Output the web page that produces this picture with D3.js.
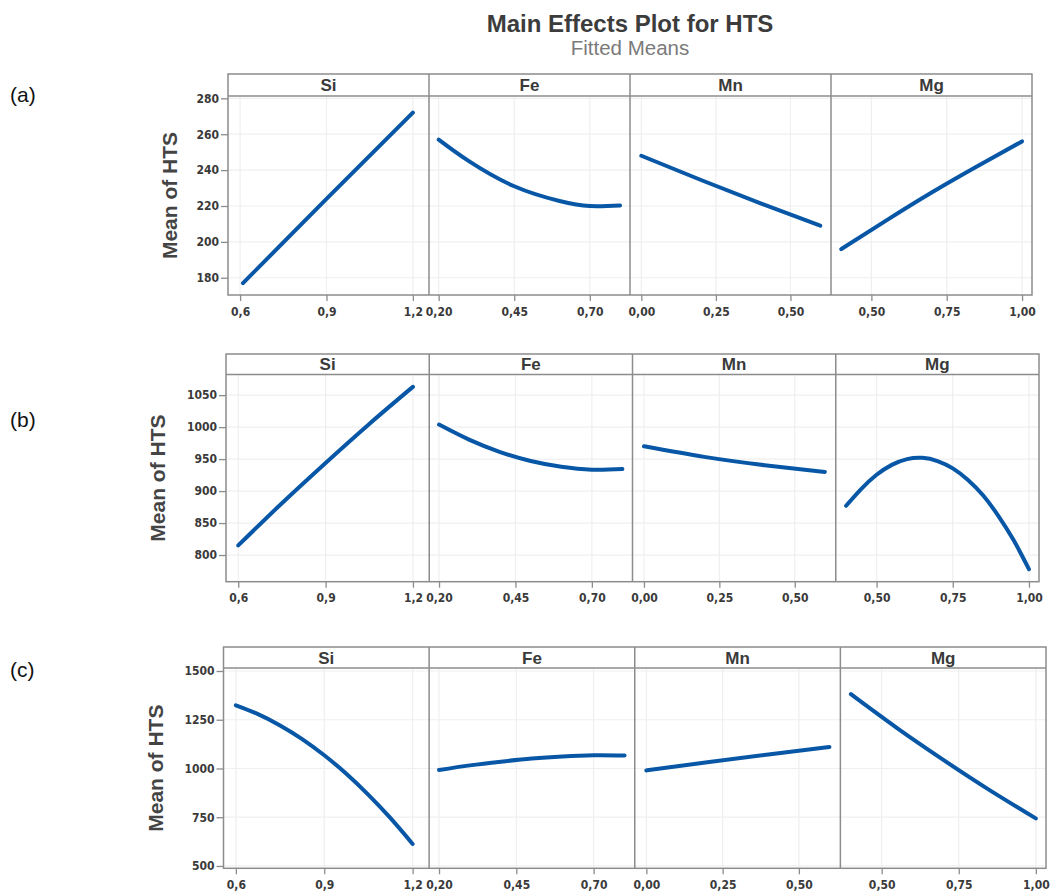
<!DOCTYPE html>
<html><head><meta charset="utf-8">
<script src="https://cdn.jsdelivr.net/npm/d3@7"></script>
<style>body{margin:0;background:#fff}svg{display:block}</style>
</head><body>
<svg id="c" width="1051" height="892"></svg>
<script>
// ---- data ----
const title = "Main Effects Plot for HTS";
const subtitle = "Fitted Means";
const factors = ["Si", "Fe", "Mn", "Mg"];
const rowLabels = ["(a)", "(b)", "(c)"];
const yTitle = "Mean of HTS";

const xTicksSi = [0.6, 0.9, 1.2];
const xTicksFe = [0.20, 0.45, 0.70];
const xTicksMn = [0.00, 0.25, 0.50];
const xTicksMg = [0.50, 0.75, 1.00];
const xDigitsSi = 1, xDigitsOther = 2;

const yTicksA = [180, 200, 220, 240, 260, 280];
const yTicksB = [800, 850, 900, 950, 1000, 1050];
const yTicksC = [500, 750, 1000, 1250, 1500];

// row (a)
const aSi = [[0.61,177],[0.9,224],[1.2,272]];
const aFe = [[0.2,257],[0.3,245],[0.45,231],[0.6,222.8],[0.7,220],[0.8,220.3]];
const aMn = [[0.0,248],[0.2,234.5],[0.4,221.5],[0.6,209]];
const aMg = [[0.4,196],[0.55,212],[0.7,227.5],[0.85,242],[1.0,256]];
// row (b)
const bSi = [[0.6,815],[0.75,881],[0.9,944],[1.05,1005],[1.2,1063]];
const bFe = [[0.2,1004],[0.3,980],[0.4,961],[0.5,947],[0.6,938],[0.7,933.5],[0.8,934.5]];
const bMn = [[0.0,970],[0.2,953.5],[0.4,940.5],[0.6,930]];
const bMg = [[0.4,877],[0.45,903.5],[0.5,925.5],[0.55,941],[0.6,950],[0.65,952],[0.7,947],[0.75,935.5],[0.8,917.5],[0.85,893],[0.9,861],[0.95,823],[1.0,778]];
// row (c)
const cSi = [[0.6,1324],[0.675,1279],[0.75,1221],[0.825,1151],[0.9,1068],[0.975,973],[1.05,865],[1.125,745],[1.2,613]];
const cFe = [[0.2,992],[0.3,1016],[0.4,1035],[0.5,1051],[0.6,1062],[0.7,1068],[0.8,1067]];
const cMn = [[0.0,990],[0.2,1032],[0.4,1072],[0.6,1110]];
const cMg = [[0.4,1381],[0.55,1207],[0.7,1044],[0.85,889],[1.0,744]];

// ---- layout ----
const xDomains = {Si:[0.558,1.256], Fe:[0.168,0.833], Mn:[-0.038,0.636], Mg:[0.366,1.033]};
const xTickSets = {Si:xTicksSi, Fe:xTicksFe, Mn:xTicksMn, Mg:xTicksMg};
const rows = [
  {label:rowLabels[0], labelY:95, left:228, right:1032, top:74, plotTop:96, bottom:295, yDom:[170.4,281.3], yTicks:yTicksA, yTitleX:170, series:{Si:aSi,Fe:aFe,Mn:aMn,Mg:aMg}},
  {label:rowLabels[1], labelY:420, left:226, right:1039, top:354, plotTop:374.5, bottom:581.7, yDom:[758.3,1082.3], yTicks:yTicksB, yTitleX:158, series:{Si:bSi,Fe:bFe,Mn:bMn,Mg:bMg}},
  {label:rowLabels[2], labelY:670, left:223.5, right:1046, top:647, plotTop:668, bottom:868.3, yDom:[488,1515.4], yTicks:yTicksC, yTitleX:156, series:{Si:cSi,Fe:cFe,Mn:cMn,Mg:cMg}}
];

const svg = d3.select("#c");
const FONT = "'Liberation Sans', Arial, sans-serif";
const TICKFONT = "'DejaVu Sans Condensed', 'DejaVu Sans', sans-serif";
const frameCol = "#8c8c8c", gridCol = "#efefef", lineCol = "#0857a6", textCol = "#3a3a3a";

svg.append("text").attr("x",630).attr("y",32).attr("text-anchor","middle")
  .attr("font-family",FONT).attr("font-weight","bold").attr("font-size",24).attr("fill","#3c3c3c").text(title);
svg.append("text").attr("x",630).attr("y",55).attr("text-anchor","middle")
  .attr("font-family",FONT).attr("font-size",20.5).attr("fill","#7a7a7a").text(subtitle);

const fmtInt = d => d.toFixed(0);

rows.forEach(r => {
  const g = svg.append("g");
  g.append("text").attr("x",10).attr("y",r.labelY).attr("dy","0.35em")
    .attr("font-family",FONT).attr("font-size",21).attr("fill","#111").text(r.label);
  g.append("text").attr("transform",`translate(${r.yTitleX},${(r.plotTop+r.bottom)/2}) rotate(-90)`)
    .attr("text-anchor","middle").attr("dy","0.35em")
    .attr("font-family",FONT).attr("font-weight","bold").attr("font-size",21).attr("fill","#444").text(yTitle);

  const y = d3.scaleLinear().domain(r.yDom).range([r.bottom, r.plotTop]);
  const pw = (r.right - r.left) / factors.length;

  factors.forEach((f, i) => {
    const x0 = r.left + i*pw, x1 = x0 + pw;
    const x = d3.scaleLinear().domain(xDomains[f]).range([x0, x1]);
    const pg = g.append("g");
    pg.selectAll("line.gy").data(r.yTicks).join("line")
      .attr("x1",x0).attr("x2",x1).attr("y1",d=>y(d)).attr("y2",d=>y(d))
      .attr("stroke",gridCol).attr("stroke-width",1.2);
    pg.selectAll("line.gx").data(xTickSets[f]).join("line")
      .attr("x1",d=>x(d)).attr("x2",d=>x(d)).attr("y1",r.plotTop).attr("y2",r.bottom)
      .attr("stroke",gridCol).attr("stroke-width",1.2);
    const line = d3.line().x(d=>x(d[0])).y(d=>y(d[1])).curve(d3.curveNatural);
    pg.append("path").datum(r.series[f]).attr("d",line)
      .attr("fill","none").attr("stroke",lineCol).attr("stroke-width",4).attr("stroke-linecap","round");
    const digits = f === "Si" ? xDigitsSi : xDigitsOther;
    const xa = d3.axisBottom(x).tickValues(xTickSets[f]).tickSize(6).tickPadding(6)
      .tickFormat(d => d.toFixed(digits).replace(".", ","));
    const axg = pg.append("g").attr("transform",`translate(0,${r.bottom})`).call(xa);
    axg.select(".domain").remove();
    axg.selectAll("line").attr("stroke",frameCol).attr("stroke-width",1.3);
    axg.selectAll("text").attr("font-family",TICKFONT).attr("font-weight","bold").attr("font-size",12).attr("fill",textCol);
    pg.append("text").attr("x",(x0+x1)/2).attr("y",(r.top+r.plotTop)/2).attr("dy","0.36em")
      .attr("text-anchor","middle").attr("font-family",FONT).attr("font-weight","bold")
      .attr("font-size",17).attr("fill",textCol).text(f);
    if (i > 0) {
      pg.append("line").attr("x1",x0).attr("x2",x0).attr("y1",r.top).attr("y2",r.bottom)
        .attr("stroke",frameCol).attr("stroke-width",1.5);
    }
  });
  const ya = d3.axisLeft(y).tickValues(r.yTicks).tickSize(7).tickPadding(2).tickFormat(fmtInt);
  const yag = g.append("g").attr("transform",`translate(${r.left},0)`).call(ya);
  yag.select(".domain").remove();
  yag.selectAll("line").attr("stroke",frameCol).attr("stroke-width",1.3);
  yag.selectAll("text").attr("font-family",TICKFONT).attr("font-weight","bold").attr("font-size",12).attr("fill",textCol);
  g.append("rect").attr("x",r.left).attr("y",r.top).attr("width",r.right-r.left).attr("height",r.bottom-r.top)
    .attr("fill","none").attr("stroke",frameCol).attr("stroke-width",1.5);
  g.append("line").attr("x1",r.left).attr("x2",r.right).attr("y1",r.plotTop).attr("y2",r.plotTop)
    .attr("stroke",frameCol).attr("stroke-width",1.5);
});
</script>
</body></html>
